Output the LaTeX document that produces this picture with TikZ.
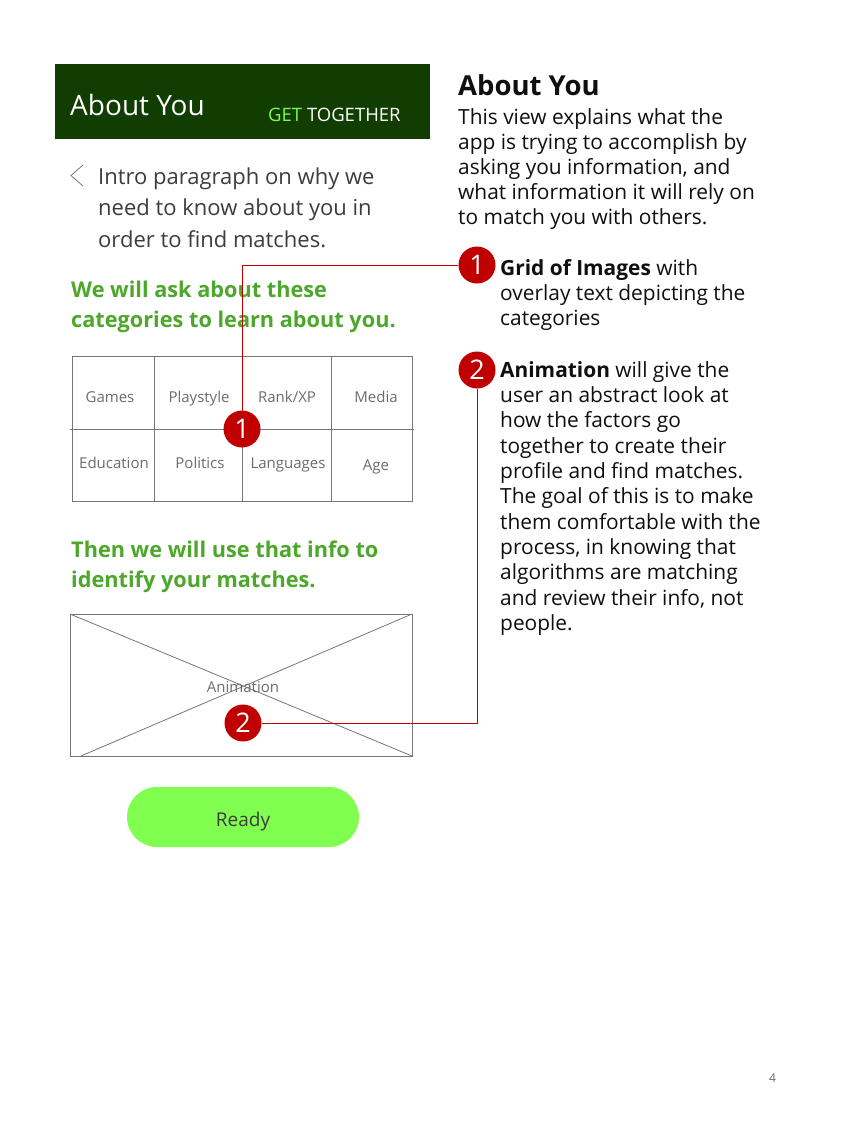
\documentclass[tikz,border=0pt]{standalone}
\usepackage{fontspec}
\setmainfont{Open Sans}
\definecolor{hdrgreen}{RGB}{17,61,0}
\definecolor{getgreen}{RGB}{124,250,80}
\definecolor{headgreen}{RGB}{76,167,42}
\definecolor{badgered}{RGB}{192,0,0}
\definecolor{gridgray}{RGB}{118,118,118}
\definecolor{lblgray}{RGB}{108,108,108}
\definecolor{introgray}{RGB}{60,60,60}
\definecolor{bodyblack}{RGB}{15,15,15}
\definecolor{btngreen}{RGB}{128,255,80}
\tikzset{
  badge/.style={circle,fill=badgered,minimum size=37pt,inner sep=0pt,text=white,font=\fontsize{27}{27}\selectfont},
  lbl/.style={text=lblgray,font=\fontsize{15}{16}\selectfont,inner sep=0pt,anchor=base},
  gridline/.style={draw=gridgray,line width=1pt},
  redline/.style={draw=badgered,line width=1pt},
  para/.style={inner sep=0pt,anchor=base west},
}
\begin{document}
\begin{tikzpicture}[x=1pt,y=-1pt]
\useasboundingbox (0,0) rectangle (848,1130);
% header
\fill[hdrgreen] (55,64) rectangle (430,139);
\node[para,text=white,font=\fontsize{28}{28}\selectfont] (hdrtitle) at (70,115) {About You};
\node[para,font=\fontsize{18.5}{18.5}\selectfont] (hdrbrand) at (268,121) {\textcolor{getgreen}{GET} \textcolor{white}{TOGETHER}};
% chevron
\draw[draw=gridgray,line width=0.8pt] (83,165) -- (71,175.5) -- (83,186);
\node[para,text=introgray] (intro) at (98,184) {\parbox[t]{320pt}{\fontsize{22}{31.5}\selectfont Intro paragraph on why we\\need to know about you in\\order to find matches.}};
% green heading 1
\node[para,text=headgreen] (head1) at (71,297) {\parbox[t]{360pt}{\fontsize{21.7}{30}\selectfont\bfseries We will ask about these\\categories to learn about you.}};
% grid
\draw[gridline] (72,356) rectangle (412,501);
\draw[gridline] (70,429) -- (414,429);
\draw[gridline] (154,356) -- (154,501);
\draw[gridline] (242,356) -- (242,501);
\draw[gridline] (331,356) -- (331,501);
\node[lbl] (gGames) at (110,402) {Games};
\node[lbl] (gPlay) at (199,402) {Playstyle};
\node[lbl] (gRank) at (287,402) {Rank/XP};
\node[lbl] (gMedia) at (376,402) {Media};
\node[lbl] (gEdu) at (114,468) {Education};
\node[lbl] (gPol) at (200,468) {Politics};
\node[lbl] (gLang) at (288,468) {Languages};
\node[lbl] (gAge) at (376,470) {Age};
% green heading 2
\node[para,text=headgreen] (head2) at (71,557) {\parbox[t]{360pt}{\fontsize{21.7}{30}\selectfont\bfseries Then we will use that info to\\identify your matches.}};
% animation box
\draw[gridline] (70,614) rectangle (412,756);
\draw[draw=gridgray,line width=0.8pt] (70,614) -- (412,756);
\draw[draw=gridgray,line width=0.8pt] (81,756) -- (412,614);
\node[lbl] (anim) at (243,692) {Animation};
% button
\node[fill=btngreen,rounded corners=30pt,minimum width=232pt,minimum height=60pt,inner sep=0pt] (ready) at (243,817) {};
\node[text=introgray,font=\fontsize{19}{19}\selectfont,inner sep=0pt,anchor=base] (readytxt) at (243,826) {Ready};
% right side
\node[para,text=bodyblack,font=\fontsize{27.5}{27.5}\selectfont\bfseries] (rtitle) at (458,95) {About You};
\node[para,text=bodyblack] (rbody) at (458,124) {\parbox[t]{360pt}{\fontsize{20.9}{25.2}\selectfont This view explains what the\\app is trying to accomplish by\\asking you information, and\\what information it will rely on\\to match you with others.}};
\node[para,text=bodyblack] (rnote1) at (500,275) {\parbox[t]{330pt}{\fontsize{20.9}{25.2}\selectfont\textbf{Grid of Images} with\\overlay text depicting the\\categories}};
\node[para,text=bodyblack] (rnote2) at (500,377) {\parbox[t]{330pt}{\fontsize{20.9}{25.35}\selectfont\textbf{Animation} will give the\\user an abstract look at\\how the factors go\\together to create their\\profile and find matches.\\The goal of this is to make\\them comfortable with the\\process, in knowing that\\algorithms are matching\\and review their info, not\\people.}};
% badges
\node[badge] (b1grid) at (242,429) {1};
\node[badge] (b1note) at (477,265) {1};
\node[badge] (b2anim) at (243,723) {2};
\node[badge] (b2note) at (477,370) {2};
\draw[redline] (b1grid.north) |- (b1note.west);
\draw[redline] (b2note.south) |- (b2anim.east);
% page number
\node[para,text=lblgray,font=\fontsize{12}{12}\selectfont] (pgnum) at (769,1082) {4};
\end{tikzpicture}
\end{document}
